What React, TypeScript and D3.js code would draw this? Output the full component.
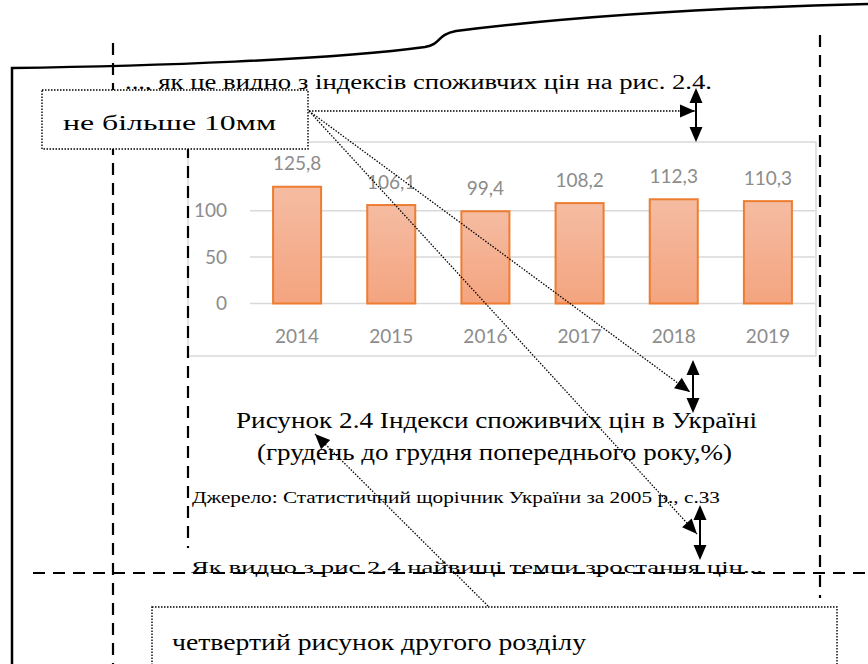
import React from "react";
import * as d3 from "d3";

const years = ["2014", "2015", "2016", "2017", "2018", "2019"];
const values = [125.8, 106.1, 99.4, 108.2, 112.3, 110.3];
const yTicks = [0, 50, 100];

const introText = "..., як це видно з індексів споживчих цін на рис. 2.4.";
const boxText = "не більше 10мм";
const captionLine1 = "Рисунок 2.4  Індекси споживчих цін в Україні";
const captionLine2 = "(грудень до грудня попереднього року,%)";
const sourceText = "Джерело: Статистичний щорічник України за 2005 р., с.33";
const followText = "Як видно з рис 2.4 найвищі темпи зростання цін...";
const bottomBoxText = "четвертий рисунок другого розділу";

const W = 868;
const H = 664;

function arrowHead(tx: number, ty: number, fx: number, fy: number, L = 15, hw = 6.5) {
  const dx = tx - fx;
  const dy = ty - fy;
  const len = Math.sqrt(dx * dx + dy * dy);
  const ux = dx / len;
  const uy = dy / len;
  const bx = tx - ux * L;
  const by = ty - uy * L;
  const px = -uy * hw;
  const py = ux * hw;
  return `M${tx},${ty}L${bx + px},${by + py}L${bx - px},${by - py}Z`;
}

function DoubleArrow({ x, y1, y2 }: { x: number; y1: number; y2: number }) {
  return (
    <g>
      <line x1={x} y1={y1 + 10} x2={x} y2={y2 - 10} stroke="#000" strokeWidth={2} />
      <path d={arrowHead(x, y1, x, y2)} fill="#000" />
      <path d={arrowHead(x, y2, x, y1)} fill="#000" />
    </g>
  );
}

function DottedArrow({ x1, y1, x2, y2 }: { x1: number; y1: number; x2: number; y2: number }) {
  return (
    <g>
      <line x1={x1} y1={y1} x2={x2} y2={y2} stroke="#000" strokeWidth={1.3} strokeDasharray="1.5 1.5" />
      <path d={arrowHead(x2, y2, x1, y1)} fill="#000" />
    </g>
  );
}

export default function App() {
  const x = d3.scaleBand<string>().domain(years).range([250, 815]).paddingInner(0.49).paddingOuter(0.245);
  const y = d3.scaleLinear().domain([0, 100]).range([303.5, 210.7]);
  const fmt = (v: number) => d3.format(".1f")(v).replace(".", ",");
  const serifStyle = { fontFamily: '"Liberation Serif", "Times New Roman", Times, serif' };
  const sans = "Lato, 'Open Sans', sans-serif";
  const dash = "12 8";

  return (
    <svg width={W} height={H} style={{ position: "absolute", left: 0, top: 0, background: "#fff" }}>
      <defs>
        <linearGradient id="barGrad" x1="0" y1="0" x2="0" y2="1">
          <stop offset="0%" stopColor="#f5bca2" />
          <stop offset="100%" stopColor="#f4a47f" />
        </linearGradient>
      </defs>
      <rect x={0} y={0} width={W} height={H} fill="#fff" />

      {/* page outline */}
      <path
        d="M12,664 L12,68 C150,66 330,60 425,47 C442,44 436,35 456,31 C560,18 700,8 868,4"
        fill="none"
        stroke="#000"
        strokeWidth={2.5}
      />

      {/* vertical dashed margins */}
      <line x1={113} y1={43} x2={113} y2={664} stroke="#000" strokeWidth={2.2} strokeDasharray={dash} />
      <line x1={820} y1={35} x2={820} y2={598} stroke="#000" strokeWidth={2.2} strokeDasharray={dash} />

      {/* intro text */}
      <text x={125} y={89} style={serifStyle} fontSize={20} textLength={587} lengthAdjust="spacingAndGlyphs" fill="#000">
        {introText}
      </text>

      {/* chart */}
      <rect x={188} y={142} width={628} height={214} fill="#fff" stroke="#d9d9d9" strokeWidth={1.5} />
      {yTicks.map((t) => (
        <g key={t}>
          <line x1={250} x2={815} y1={y(t)} y2={y(t)} stroke="#d9d9d9" strokeWidth={1.5} />
          <text x={227} y={y(t)} dy="0.35em" textAnchor="end" fontFamily={sans} fontSize={19} fill="#8c8c8c">
            {t}
          </text>
        </g>
      ))}
      {years.map((yr, i) => {
        const bx = x(yr) as number;
        const bw = x.bandwidth();
        const top = y(values[i]);
        return (
          <g key={yr}>
            <rect x={bx} y={top} width={bw} height={y(0) - top} fill="url(#barGrad)" stroke="#ed7d31" strokeWidth={2} />
            <text x={bx + bw / 2} y={top - 23} dy="0.35em" textAnchor="middle" fontFamily={sans} fontSize={19} fill="#8c8c8c">
              {fmt(values[i])}
            </text>
            <text x={bx + bw / 2} y={336} dy="0.35em" textAnchor="middle" fontFamily={sans} fontSize={19} fill="#8c8c8c">
              {yr}
            </text>
          </g>
        );
      })}

      {/* dashed line left of chart */}
      <line x1={188} y1={146} x2={188} y2={548} stroke="#000" strokeWidth={2.2} strokeDasharray={dash} />

      {/* box "не більше 10мм" */}
      <rect x={42} y={90} width={266} height={59} fill="#fff" stroke="#000" strokeWidth={1.4} strokeDasharray="1.5 1.5" />
      <text x={63} y={130} style={serifStyle} fontSize={22} textLength={213} lengthAdjust="spacingAndGlyphs" fill="#000">
        {boxText}
      </text>

      {/* caption */}
      <text x={236} y={428} style={serifStyle} fontSize={23} textLength={521} lengthAdjust="spacingAndGlyphs" fill="#000">
        {captionLine1}
      </text>
      <text x={257} y={460} style={serifStyle} fontSize={23} textLength={475} lengthAdjust="spacingAndGlyphs" fill="#000">
        {captionLine2}
      </text>
      <text x={192} y={503} style={serifStyle} fontSize={16} textLength={528} lengthAdjust="spacingAndGlyphs" fill="#000">
        {sourceText}
      </text>

      {/* following text + horizontal dashed line */}
      <text x={191} y={573} style={serifStyle} fontSize={17.5} textLength={572} lengthAdjust="spacingAndGlyphs" fill="#000">
        {followText}
      </text>
      <line x1={33} y1={573} x2={868} y2={573} stroke="#000" strokeWidth={2.2} strokeDasharray={dash} />

      {/* bottom box */}
      <rect x={152} y={607} width={685} height={70} fill="#fff" stroke="#000" strokeWidth={1.4} strokeDasharray="1.5 1.5" />
      <text x={172} y={650} style={serifStyle} fontSize={24} textLength={414} lengthAdjust="spacingAndGlyphs" fill="#000">
        {bottomBoxText}
      </text>

      {/* arrows */}
      <DoubleArrow x={696} y1={88} y2={142} />
      <DoubleArrow x={693} y1={360} y2={413} />
      <DoubleArrow x={700} y1={505} y2={560} />
      <DottedArrow x1={309} y1={111} x2={695} y2={111} />
      <DottedArrow x1={309} y1={111} x2={690} y2={392} />
      <DottedArrow x1={309} y1={111} x2={697} y2={534} />
      <DottedArrow x1={488} y1={606} x2={315} y2={434} />
    </svg>
  );
}
